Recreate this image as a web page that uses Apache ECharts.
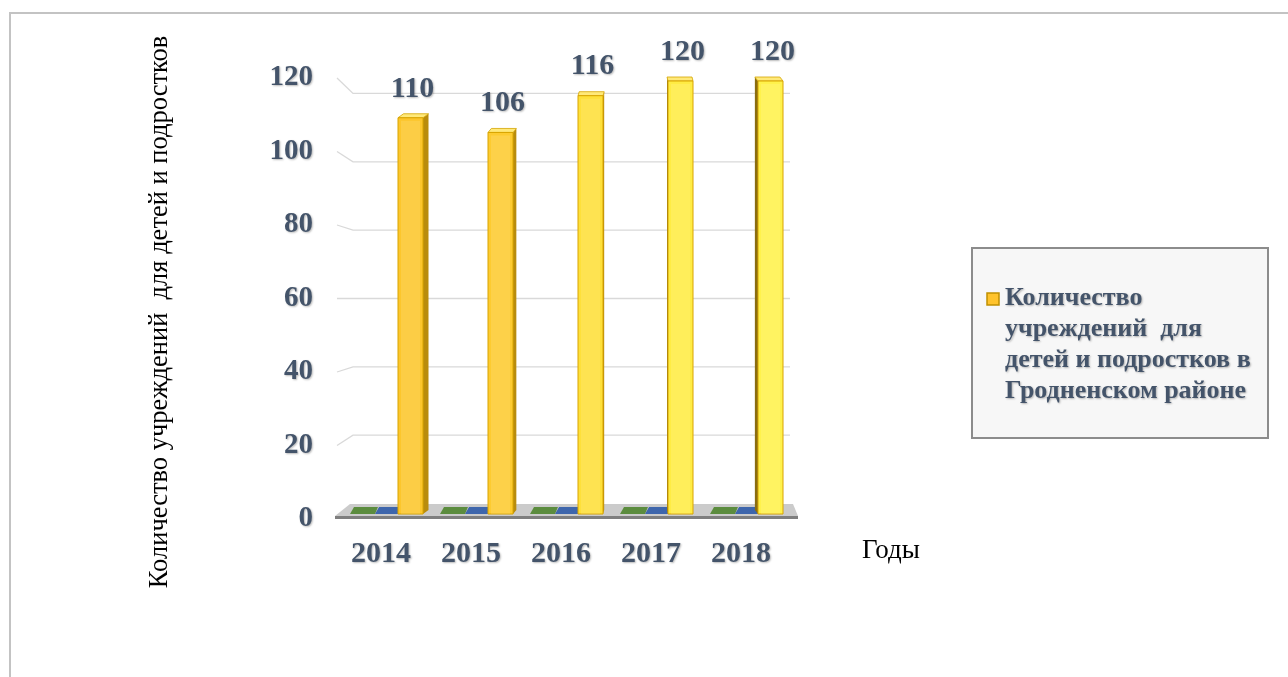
<!DOCTYPE html>
<html>
<head>
<meta charset="utf-8">
<script src="https://cdn.jsdelivr.net/npm/echarts@6/dist/echarts.min.js"></script>
<style>
  html, body { margin: 0; padding: 0; background: #ffffff; }
  #chart { width: 1288px; height: 677px; }
</style>
</head>
<body>
<div id="chart"></div>
<script>
// Годы и количество учреждений
const years = ['2014', '2015', '2016', '2017', '2018'];
const institutions = [110, 106, 116, 120, 120];
// две пустые серии, лежащие на полу диаграммы
const seriesA = [0, 0, 0, 0, 0];
const seriesB = [0, 0, 0, 0, 0];
const yTicks = [0, 20, 40, 60, 80, 100, 120];

const seriesName = 'Количество учреждений для детей и подростков в Гродненском районе';
const legendLines = ['Количество', 'учреждений  для', 'детей и подростков в', 'Гродненском районе'];
const yTitle = 'Количество учреждений  для детей и подростков';
const xTitle = 'Годы';

const textColor = '#44546a';
const serif = '"Liberation Serif", "Times New Roman", serif';
const barFaces = ['#fcc62c', '#fdcb30', '#fee03a', '#ffec44', '#fff24c'];
const shadow = { textShadowColor: 'rgba(0,0,0,0.28)', textShadowBlur: 2, textShadowOffsetX: 1, textShadowOffsetY: 1 };

const chart = echarts.init(document.getElementById('chart'), null, { renderer: 'canvas' });

// наклонные линии сетки задней стенки
function renderGrid(params, api) {
  const v = api.value(0);
  const horizon = api.coord([0, 60])[1];
  const front = api.coord([0, v]);
  const band = api.size([1, 0])[0];
  const x0 = front[0] - band / 2 + 1;
  const yFront = front[1];
  const yBack = horizon + (yFront - horizon) * 0.93;
  const xEnd = api.coord([years.length - 1, v])[0] + band / 2 + 4;
  return {
    type: 'polyline',
    shape: { points: [[x0, yFront], [x0 + 16, yBack], [xEnd, yBack]] },
    style: { stroke: '#d9d9d9', lineWidth: 1.3, fill: null }
  };
}

// серый пол
function renderFloor(params, api) {
  const band = api.size([1, 0])[0];
  const p0 = api.coord([0, 0]);
  const p1 = api.coord([years.length - 1, 0]);
  const left = p0[0] - band / 2 - 1;
  const right = p1[0] + band / 2 + 12;
  const yb = p0[1] - 3;
  return {
    type: 'group',
    children: [
      { type: 'polygon', shape: { points: [[left + 15, yb - 12], [right - 5, yb - 12], [right, yb], [left, yb]] },
        style: { fill: '#cbcbcb' } },
      { type: 'polygon', shape: { points: [[left, yb], [right, yb], [right, yb + 3], [left, yb + 3]] },
        style: { fill: '#7f7f7f' } }
    ]
  };
}

// плоские пластины нулевых серий
function slabRenderer(offsetL, offsetR, color) {
  return function (params, api) {
    const p = api.coord([api.value(0), api.value(1)]);
    const yb = p[1] - 5;
    const yt = yb - 7;
    const l = p[0] + offsetL, r = p[0] + offsetR;
    return {
      type: 'polygon',
      shape: { points: [[l + 4, yt], [r + 3, yt], [r, yb], [l, yb]] },
      style: { fill: color }
    };
  };
}

// объёмные столбцы с подписью значения
function renderBar(params, api) {
  const i = api.value(0);
  const v = api.value(1);
  const top = api.coord([i, v]);
  const base = api.coord([i, 0]);
  const fl = top[0] + 17, fr = top[0] + 42;
  const yt = top[1] + 3, yb = base[1] - 5;
  const mid = (fl + fr) / 2;
  const d = Math.max(-5, Math.min(6, (640 - mid) * 0.024));
  const face = barFaces[i];
  const children = [];
  if (d > 0.5) {
    children.push({ type: 'polygon', shape: { points: [[fr, yt], [fr + d, yt - 4], [fr + d, yb - 4], [fr, yb]] },
      style: { fill: '#b98c0c' } });
  } else if (d < -0.5) {
    children.push({ type: 'polygon', shape: { points: [[fl, yt], [fl + d, yt - 4], [fl + d, yb - 4], [fl, yb]] },
      style: { fill: '#8a6d10' } });
  }
  children.push({ type: 'polygon', shape: { points: [[fl, yt], [fr, yt], [fr + d, yt - 4], [fl + d, yt - 4]] },
    style: { fill: '#ffe97a', stroke: '#d4a400', lineWidth: 0.8 } });
  children.push({ type: 'rect', shape: { x: fl, y: yt, width: fr - fl, height: yb - yt },
    style: { fill: face, stroke: '#d8a400', lineWidth: 1 } });
  children.push({ type: 'rect', shape: { x: fl + 3, y: yt + 3, width: fr - fl - 6, height: yb - yt - 3 },
    style: { fill: 'rgba(255,255,255,0.12)' } });
  children.push({ type: 'text', style: Object.assign({
      text: String(v), x: mid + 2, y: top[1] - 26, align: 'center', verticalAlign: 'middle',
      font: 'bold 30px ' + serif, fill: textColor }, shadow) });
  return { type: 'group', children: children };
}

const option = {
  backgroundColor: '#ffffff',
  animation: false,
  grid: { left: 336, width: 450, top: 78, height: 441, containLabel: false },
  xAxis: {
    type: 'category',
    data: years,
    axisLine: { show: false },
    axisTick: { show: false },
    axisLabel: Object.assign({ margin: 20, color: textColor, fontFamily: serif, fontWeight: 'bold', fontSize: 30 }, shadow)
  },
  yAxis: {
    type: 'value',
    min: 0, max: 120, interval: 20,
    axisLine: { show: false },
    axisTick: { show: false },
    splitLine: { show: false },
    axisLabel: Object.assign({ margin: 23, color: textColor, fontFamily: serif, fontWeight: 'bold', fontSize: 29 }, shadow)
  },
  series: [
    { type: 'custom', name: 'grid', data: yTicks.filter(v => v > 0).map(v => [v]), renderItem: renderGrid, z: 1, silent: true },
    { type: 'custom', name: 'floor', data: [[0]], renderItem: renderFloor, z: 2, silent: true },
    { type: 'custom', name: 'Ряд 1', data: seriesA.map((v, i) => [i, v]), renderItem: slabRenderer(-31, -6, '#5b8c3e'), z: 3 },
    { type: 'custom', name: 'Ряд 2', data: seriesB.map((v, i) => [i, v]), renderItem: slabRenderer(-6, 17, '#3e66ac'), z: 3 },
    { type: 'custom', name: seriesName, data: institutions.map((v, i) => [i, v]), renderItem: renderBar, z: 4 }
  ],
  graphic: [
    { type: 'rect', shape: { x: 10, y: 13, width: 1300, height: 700 }, style: { fill: null, stroke: '#c3c3c3', lineWidth: 2 }, z: 0, silent: true },
    { type: 'text', x: 160, y: 312, rotation: Math.PI / 2, style: {
        text: yTitle, font: '26.5px ' + serif, fill: '#000000', align: 'center', verticalAlign: 'middle' } },
    { type: 'text', x: 862, y: 551, style: {
        text: xTitle, font: '27px ' + serif, fill: '#000000', align: 'left', verticalAlign: 'middle' } },
    { type: 'rect', shape: { x: 972, y: 248, width: 296, height: 190 }, style: { fill: '#f7f7f7', stroke: '#8c8c8c', lineWidth: 2 } },
    { type: 'rect', shape: { x: 987, y: 293, width: 12, height: 12 }, style: { fill: '#ffc32c', stroke: '#c09000', lineWidth: 1.5 } },
    { type: 'text', x: 1005, y: 283, style: Object.assign({
        text: legendLines.join('\n'), font: 'bold 26px ' + serif, lineHeight: 31, fill: textColor, align: 'left', verticalAlign: 'top' }, shadow) }
  ]
};

chart.setOption(option);
</script>
</body>
</html>
